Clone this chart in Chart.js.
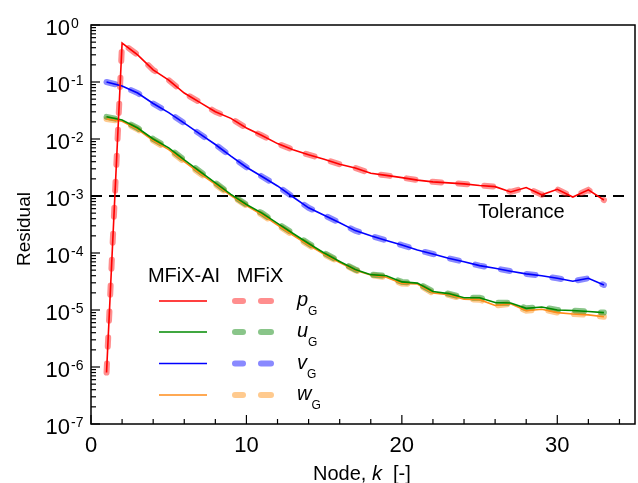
<!DOCTYPE html>
<html>
<head>
<meta charset="utf-8">
<script src="https://cdn.jsdelivr.net/npm/chart.js@4.4.0/dist/chart.umd.min.js"></script>
<style>
  html, body { margin: 0; padding: 0; background: #fff; }
  #wrap { width: 638px; height: 483px; }
</style>
</head>
<body>
<div id="wrap"><canvas id="residualChart" width="638" height="483"></canvas></div>
<script>
// ---------- residual data per node ----------
const nodes = [1, 2, 3, 4, 5, 6, 7, 8, 9, 10, 11, 12, 13, 14, 15, 16, 17,
               18, 19, 20, 21, 22, 23, 24, 25, 26, 27, 28, 29, 30, 31, 32, 33];

const pG = [8.0e-7, 0.48, 0.30, 0.163, 0.108, 0.064, 0.044, 0.030, 0.023, 0.0156, 0.0115,
            0.0083, 0.0065, 0.0053, 0.0044, 0.0036, 0.0031, 0.0025, 0.0023, 0.0021, 0.0019,
            0.00177, 0.0017, 0.00163, 0.00153, 0.00146, 0.00118, 0.00141, 0.00105, 0.00131,
            0.00096, 0.00128, 0.00085];

const uG = [0.0245, 0.0215, 0.0156, 0.0100, 0.0070, 0.0043, 0.0027, 0.0017, 0.00107, 0.00071,
            0.00050, 0.00033, 0.00022, 0.000147, 0.000100, 0.000071, 0.0000513, 0.0000417,
            0.0000398, 0.0000311, 0.0000296, 0.0000211, 0.0000194, 0.0000164, 0.0000164,
            0.0000135, 0.0000133, 0.0000107, 0.0000113, 0.0000100, 0.0000098, 0.0000094, 0.0000090];

const vG = [0.100, 0.085, 0.064, 0.042, 0.029, 0.019, 0.0123, 0.0080, 0.0050, 0.0032, 0.0022,
            0.0015, 0.00096, 0.00062, 0.00046, 0.00034, 0.000247, 0.000200, 0.000166, 0.000138,
            0.000113, 0.000096, 0.000081, 0.000070, 0.000060, 0.000054, 0.000048, 0.000043,
            0.000040, 0.000036, 0.000032, 0.000036, 0.0000275];

const wG = [0.0225, 0.0205, 0.0148, 0.0094, 0.0065, 0.0040, 0.0025, 0.0016, 0.00102, 0.00068,
            0.00047, 0.00031, 0.000205, 0.000138, 0.000095, 0.000068, 0.000050, 0.000041,
            0.0000375, 0.0000292, 0.0000285, 0.0000198, 0.0000185, 0.0000155, 0.0000152,
            0.0000120, 0.0000128, 0.0000097, 0.0000103, 0.0000090, 0.0000085, 0.0000082, 0.0000076];

const tolerance = 1e-3;
const toleranceSpan = [0, 34.6];

// axis ticks
const xMajorTicks = [0, 10, 20, 30];
const xMinorTicks = [2, 4, 6, 8, 12, 14, 16, 18, 22, 24, 26, 28, 32, 34];
const yExponents = [0, -1, -2, -3, -4, -5, -6, -7];

const FONT = 'Arial, "Liberation Sans", sans-serif';

const series = [
  { sym: 'p', values: pG, solid: '#ff0000', faded: 'rgba(255, 30, 30, 0.5)' },
  { sym: 'u', values: uG, solid: '#008a00', faded: 'rgba(20, 140, 20, 0.5)' },
  { sym: 'v', values: vG, solid: '#0000ff', faded: 'rgba(20, 20, 255, 0.5)' },
  { sym: 'w', values: wG, solid: '#ff8c1a', faded: 'rgba(255, 150, 30, 0.5)' }
];

function toPoints(values) {
  return nodes.map((k, i) => ({ x: k, y: values[i] }));
}

const datasets = [];
series.forEach(s => {
  // MFiX-AI: thin solid line
  datasets.push({
    label: 'MFiX-AI ' + s.sym,
    data: toPoints(s.values),
    borderColor: s.solid,
    borderWidth: 1.6,
    pointRadius: 0,
    order: 0
  });
  // MFiX: thick translucent dashes underneath
  datasets.push({
    label: 'MFiX ' + s.sym,
    data: toPoints(s.values),
    borderColor: s.faded,
    borderWidth: 6,
    borderDash: [9, 17],
    borderCapStyle: 'round',
    pointRadius: 0,
    order: 1
  });
});
datasets.push({
  label: 'Tolerance',
  data: toleranceSpan.map(x => ({ x: x, y: tolerance })),
  borderColor: '#000',
  borderWidth: 1.8,
  borderDash: [11, 7],
  pointRadius: 0,
  order: 2
});

function seg(ctx, x1, y1, x2, y2) {
  ctx.beginPath();
  ctx.moveTo(x1, y1);
  ctx.lineTo(x2, y2);
  ctx.stroke();
}

// frame, inward ticks, tick labels, titles and the legend block
const decorations = {
  id: 'decorations',
  afterDraw(chart) {
    const { ctx, chartArea: a, scales: { x, y } } = chart;
    ctx.save();
    ctx.strokeStyle = '#000';
    ctx.fillStyle = '#000';

    ctx.lineWidth = 1.5;
    ctx.strokeRect(a.left, a.top, a.right - a.left, a.bottom - a.top);

    // y axis ticks and 10^n labels
    ctx.lineWidth = 1.2;
    yExponents.forEach(e => {
      const py = y.getPixelForValue(Math.pow(10, e));
      seg(ctx, a.left, py, a.left + 9, py);
      if (e > -7) {
        for (let m = 2; m <= 9; m++) {
          const pm = y.getPixelForValue(m * Math.pow(10, e - 1));
          seg(ctx, a.left, pm, a.left + 5, pm);
        }
      }
      ctx.font = '22px ' + FONT;
      ctx.textAlign = 'right';
      ctx.textBaseline = 'alphabetic';
      ctx.fillText('10', 70, py + 10);
      ctx.font = '14px ' + FONT;
      ctx.textAlign = 'left';
      ctx.fillText(String(e), 71, py + 3);
    });

    // x axis ticks and labels
    xMajorTicks.forEach(v => {
      const px = x.getPixelForValue(v);
      seg(ctx, px, a.bottom, px, a.bottom - 9);
      ctx.font = '22px ' + FONT;
      ctx.textAlign = 'center';
      ctx.textBaseline = 'alphabetic';
      ctx.fillText(String(v), px, 452);
    });
    xMinorTicks.forEach(v => {
      const px = x.getPixelForValue(v);
      seg(ctx, px, a.bottom, px, a.bottom - 5);
    });

    // axis titles
    ctx.textAlign = 'left';
    ctx.textBaseline = 'alphabetic';
    let tx = 313;
    const ty = 480;
    ctx.font = '20px ' + FONT;
    ctx.fillText('Node, ', tx, ty);
    tx += ctx.measureText('Node, ').width;
    ctx.font = 'italic 20px ' + FONT;
    ctx.fillText('k', tx, ty);
    tx += ctx.measureText('k').width;
    ctx.font = '20px ' + FONT;
    ctx.fillText('  [-]', tx, ty);

    ctx.save();
    ctx.translate(25, 229);
    ctx.rotate(-Math.PI / 2);
    ctx.font = '19px ' + FONT;
    ctx.textAlign = 'center';
    ctx.textBaseline = 'middle';
    ctx.fillText('Residual', 0, 0);
    ctx.restore();

    // tolerance note
    ctx.font = '20px ' + FONT;
    ctx.textAlign = 'left';
    ctx.textBaseline = 'middle';
    ctx.fillText('Tolerance', 478, 212);

    // legend
    ctx.textAlign = 'center';
    ctx.fillText('MFiX-AI', 184, 276);
    ctx.fillText('MFiX', 260, 276);
    const rows = [301, 332, 363.5, 395];
    series.forEach((s, i) => {
      const ry = rows[i];
      ctx.setLineDash([]);
      ctx.lineCap = 'butt';
      ctx.strokeStyle = s.solid;
      ctx.lineWidth = 1.6;
      seg(ctx, 159, ry, 207, ry);
      ctx.strokeStyle = s.faded;
      ctx.lineWidth = 6;
      ctx.lineCap = 'round';
      seg(ctx, 235, ry, 243, ry);
      seg(ctx, 261, ry, 271, ry);
      ctx.fillStyle = '#000';
      ctx.textAlign = 'left';
      ctx.textBaseline = 'alphabetic';
      ctx.font = 'italic 20px ' + FONT;
      ctx.fillText(s.sym, 297, ry + 5);
      const w = ctx.measureText(s.sym).width;
      ctx.font = '12px ' + FONT;
      ctx.fillText('G', 297 + w, ry + 14);
    });
    ctx.restore();
  }
};

new Chart(document.getElementById('residualChart').getContext('2d'), {
  type: 'line',
  data: { datasets: datasets },
  options: {
    responsive: false,
    animation: false,
    devicePixelRatio: 1,
    layout: { padding: { left: 91, right: 3, top: 25, bottom: 59 } },
    elements: { line: { tension: 0 } },
    scales: {
      x: { type: 'linear', min: 0, max: 35, display: false },
      y: { type: 'logarithmic', min: 1e-7, max: 1, display: false }
    },
    plugins: {
      legend: { display: false },
      tooltip: { enabled: false }
    }
  },
  plugins: [decorations]
});
</script>
</body>
</html>
